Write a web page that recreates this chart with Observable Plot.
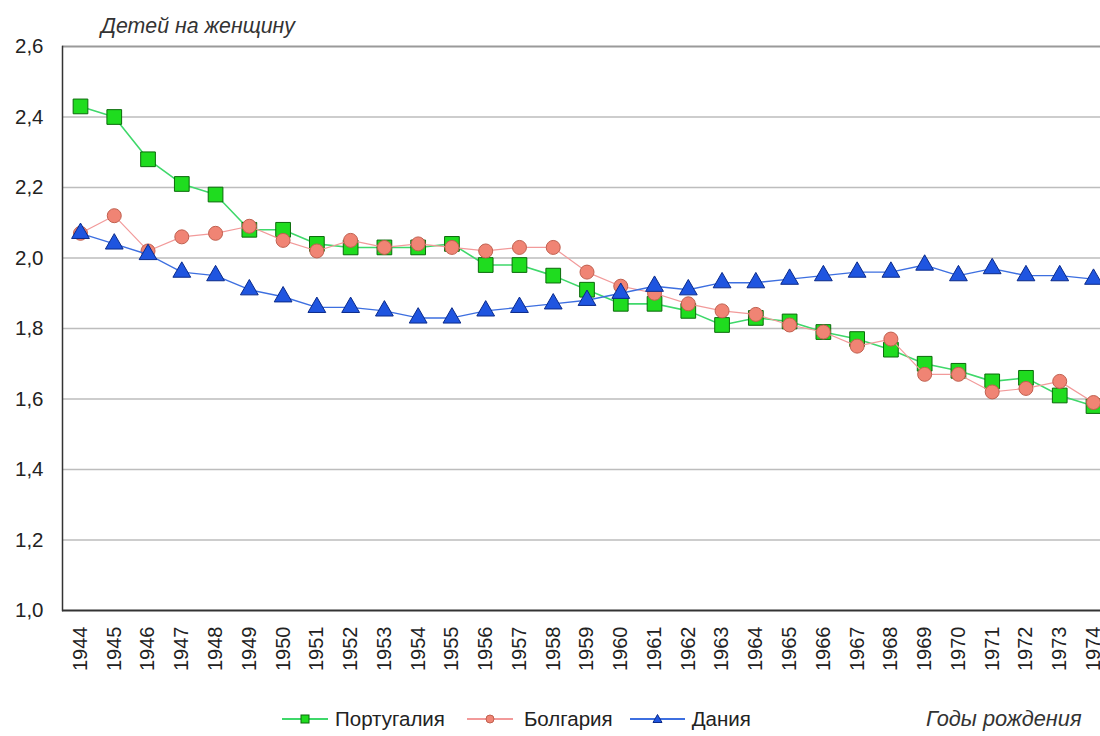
<!DOCTYPE html>
<html><head><meta charset="utf-8">
<script src="https://cdn.jsdelivr.net/npm/d3@7"></script>
<script src="https://cdn.jsdelivr.net/npm/@observablehq/plot@0.6"></script>
<style>
body{margin:0;background:#fff;font-family:"Liberation Sans",Arial,sans-serif;}
#wrap{position:relative;width:1100px;height:736px;overflow:hidden;}
#ylab{position:absolute;left:101px;top:14px;font-style:italic;font-size:21.3px;color:#333;}
#xlab{position:absolute;left:926px;top:706px;font-style:italic;font-size:21.8px;color:#333;}
#legend{position:absolute;left:282px;top:707px;font-size:20.5px;color:#222;display:flex;align-items:center;}
#legend .it{display:flex;align-items:center;}
</style></head>
<body><div id="wrap"><div id="ylab">Детей на женщину</div><div id="xlab">Годы рождения</div><div id="legend"></div></div>
<script>
const years = d3.range(1944, 1975);
const portugal = [2.43,2.40,2.28,2.21,2.18,2.08,2.08,2.04,2.03,2.03,2.03,2.04,1.98,1.98,1.95,1.91,1.87,1.87,1.85,1.81,1.83,1.82,1.79,1.77,1.74,1.70,1.68,1.65,1.66,1.61,1.58];
const bulgaria = [2.07,2.12,2.02,2.06,2.07,2.09,2.05,2.02,2.05,2.03,2.04,2.03,2.02,2.03,2.03,1.96,1.92,1.90,1.87,1.85,1.84,1.81,1.79,1.75,1.77,1.67,1.67,1.62,1.63,1.65,1.59];
const denmark = [2.07,2.04,2.01,1.96,1.95,1.91,1.89,1.86,1.86,1.85,1.83,1.83,1.85,1.86,1.87,1.88,1.90,1.92,1.91,1.93,1.93,1.94,1.95,1.96,1.96,1.98,1.95,1.97,1.95,1.95,1.94];
const seriesNames = ["Португалия","Болгария","Дания"];
const yTicks = [1.0,1.2,1.4,1.6,1.8,2.0,2.2,2.4,2.6];

const styles = {
  "Португалия": {line:"#3fd86a", fill:"#1fdc1f", stroke:"#0a6a0a", symbol:"square", r:8.3, lw:1.6, sw:46, gap:7, mr:22},
  "Болгария": {line:"#f29a9a", fill:"#f08474", stroke:"#c0604f", symbol:"circle", r:7, lw:1.2, sw:46, gap:11, mr:17},
  "Дания": {line:"#3d6fe0", fill:"#1f55e0", stroke:"#0a2a8a", symbol:"triangle", r:6.6, lw:1.4, sw:55, gap:7, mr:0}
};
const vals = [portugal, bulgaria, denmark];
const data = [];
seriesNames.forEach((s,i)=>years.forEach((y,j)=>data.push({series:s, year:y, value:vals[i][j]})));

const fmt = d => d3.format(".1f")(d).replace(".", ",");
const marks = [
  Plot.ruleY(yTicks.filter(t=>t>1.0 && t<2.6), {stroke:"#bdbdbd", strokeWidth:1.3}),
  Plot.ruleY([2.6], {stroke:"#9a9a9a", strokeWidth:2}),
  Plot.frame({anchor:"left", stroke:"#333", strokeWidth:1.5}),
  Plot.ruleY([1.0], {stroke:"#333", strokeWidth:2}),
  Plot.axisY({ticks:yTicks, tickSize:0, tickPadding:19, tickFormat:fmt, fontSize:20.5, fill:"#222", label:null}),
  Plot.axisX({ticks:years, tickSize:0, tickRotate:-90, tickPadding:16, fontSize:20, fill:"#222", label:null, tickFormat:d=>String(d)})
];
for (const s of seriesNames) {
  const st = styles[s];
  const d = data.filter(x=>x.series===s);
  marks.push(Plot.line(d, {x:"year", y:"value", stroke:st.line, strokeWidth:st.lw}));
  marks.push(Plot.dot(d, {x:"year", y:"value", symbol:()=>st.symbol, fill:st.fill, stroke:st.stroke, strokeWidth:1, r:st.r, fillOpacity:1}));
}
const chart = Plot.plot({
  width:1100, height:700,
  marginLeft:62, marginRight:0, marginTop:46, marginBottom:90,
  style:{fontFamily:"'Liberation Sans', Arial, sans-serif", background:"#fff", overflow:"visible"},
  x:{type:"linear", domain:[1944,1974], range:[80,1093]},
  y:{domain:[1.0,2.6]},
  symbol:{type:"identity"},
  marks
});
chart.style.position="absolute"; chart.style.left="0"; chart.style.top="0";
document.getElementById("wrap").prepend(chart);

const leg = document.getElementById("legend");
for (const s of seriesNames) {
  const st = styles[s];
  const it = document.createElement("div"); it.className="it";
  it.style.marginRight = st.mr + "px";
  const c = st.sw/2;
  let sym;
  if (st.symbol==="square") sym = `<rect x="${c-4}" y="6" width="8" height="8" fill="${st.fill}" stroke="${st.stroke}"/>`;
  else if (st.symbol==="circle") sym = `<circle cx="${c}" cy="10" r="4" fill="${st.fill}" stroke="${st.stroke}"/>`;
  else sym = `<path d="M${c} 5.5 L${c+4.5} 13.5 L${c-4.5} 13.5 Z" fill="${st.fill}" stroke="${st.stroke}"/>`;
  it.innerHTML = `<svg width="${st.sw}" height="20" style="margin-right:${st.gap}px"><line x1="0" x2="${st.sw}" y1="10" y2="10" stroke="${st.line}" stroke-width="1.8"/>${sym}</svg><span>${s}</span>`;
  leg.appendChild(it);
}
</script></body></html>
